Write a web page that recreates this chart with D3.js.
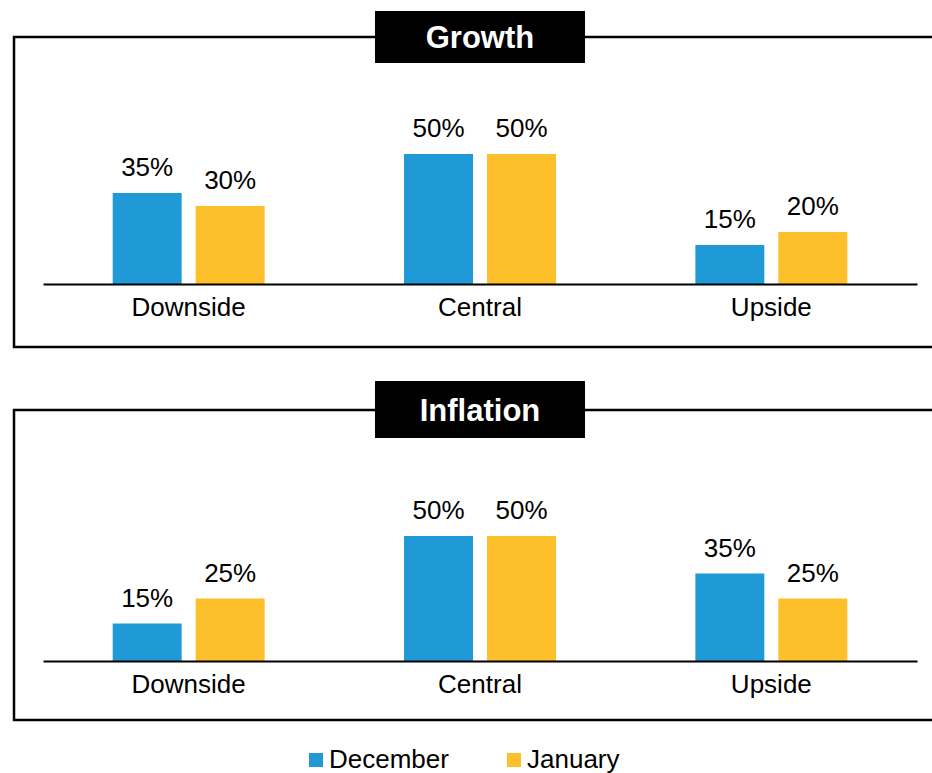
<!DOCTYPE html>
<html>
<head>
<meta charset="utf-8">
<script src="https://cdn.jsdelivr.net/npm/d3@7"></script>
<style>
  body { margin: 0; background: #fff; }
  svg { display: block; font-family: "Liberation Sans", Arial, sans-serif; }
</style>
</head>
<body>
<div id="chart"></div>
<script>
// Growth / Inflation scenario probabilities, December vs January

const categories = ["Downside", "Central", "Upside"];
const series = ["December", "January"];
const panelTitles = ["Growth", "Inflation"];

const growthDecember = [35, 50, 15];
const growthJanuary = [30, 50, 20];
const inflationDecember = [15, 50, 35];
const inflationJanuary = [25, 50, 25];

const colors = ["#1f9ad6", "#fdbf2a"];

const width = 932, height = 773;

const svg = d3.select("#chart")
    .append("svg")
    .attr("width", width)
    .attr("height", height);

const color = d3.scaleOrdinal()
    .domain(series)
    .range(colors);

const x0 = d3.scaleBand()
    .domain(categories)
    .range([43, 917])
    .padding(0);

const x1 = d3.scaleBand()
    .domain(series)
    .range([0, x0.bandwidth()])
    .paddingInner(0.1687)
    .paddingOuter(0.84);

// panel layout: frame top/bottom, baseline, px range, title box
const panels = [
    { title: panelTitles[0], dec: growthDecember, jan: growthJanuary,
      frameTop: 37, frameBottom: 347, base: 284, yTop: 128, boxY: 11, boxH: 52 },
    { title: panelTitles[1], dec: inflationDecember, jan: inflationJanuary,
      frameTop: 410, frameBottom: 720, base: 661, yTop: 511, boxY: 381, boxH: 57 }
];

panels.forEach(p => {
    const g = svg.append("g");

    const y = d3.scaleLinear()
        .domain([0, 60])
        .range([p.base, p.yTop]);

    // frame (open on the right, runs off the page)
    g.append("path")
        .attr("d", `M${width + 10},${p.frameTop} H14 V${p.frameBottom} H${width + 10}`)
        .attr("fill", "none")
        .attr("stroke", "#000")
        .attr("stroke-width", 2.5);

    // title box
    g.append("rect")
        .attr("x", 375)
        .attr("y", p.boxY)
        .attr("width", 210)
        .attr("height", p.boxH)
        .attr("fill", "#000");

    g.append("text")
        .attr("x", 480)
        .attr("y", p.boxY + p.boxH / 2)
        .attr("dy", "0.36em")
        .attr("text-anchor", "middle")
        .attr("fill", "#fff")
        .style("font-size", "31px")
        .style("font-weight", "bold")
        .text(p.title);

    const rows = categories.map((c, i) => ({
        category: c,
        values: [
            { key: series[0], value: p.dec[i] },
            { key: series[1], value: p.jan[i] }
        ]
    }));

    const groups = g.selectAll("g.bar-group")
        .data(rows)
        .enter()
        .append("g")
        .attr("class", "bar-group")
        .attr("transform", d => `translate(${x0(d.category)},0)`);

    groups.selectAll("rect")
        .data(d => d.values)
        .enter()
        .append("rect")
        .attr("x", d => x1(d.key))
        .attr("y", d => y(d.value))
        .attr("width", x1.bandwidth())
        .attr("height", d => y(0) - y(d.value))
        .attr("fill", d => color(d.key));

    groups.selectAll("text.value")
        .data(d => d.values)
        .enter()
        .append("text")
        .attr("class", "value")
        .attr("x", d => x1(d.key) + x1.bandwidth() / 2)
        .attr("y", d => y(d.value) - 17)
        .attr("text-anchor", "middle")
        .style("font-size", "26px")
        .attr("fill", "#000")
        .text(d => d.value + "%");

    // category axis
    const axis = g.append("g")
        .attr("transform", `translate(0,${p.base})`)
        .call(d3.axisBottom(x0).tickSize(0).tickPadding(0));
    axis.select(".domain")
        .attr("stroke", "#000")
        .attr("stroke-width", 2);
    axis.selectAll(".tick text")
        .attr("y", 32)
        .attr("dy", 0)
        .style("font-size", "26px")
        .style("font-family", "'Liberation Sans', Arial, sans-serif")
        .attr("fill", "#000");
});

// legend
const legendX = [309, 507];
const legend = svg.append("g")
    .selectAll("g")
    .data(series)
    .enter()
    .append("g")
    .attr("transform", (d, i) => `translate(${legendX[i]},753)`);

legend.append("rect")
    .attr("width", 14)
    .attr("height", 14)
    .attr("fill", d => color(d));

legend.append("text")
    .attr("x", 20)
    .attr("y", 15)
    .style("font-size", "26px")
    .attr("fill", "#000")
    .text(d => d);
</script>
</body>
</html>
